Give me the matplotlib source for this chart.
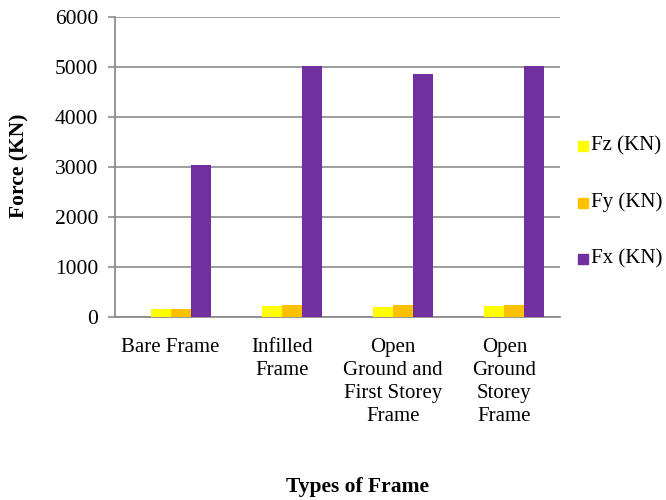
import matplotlib
matplotlib.use('Agg')
import matplotlib.pyplot as plt
import numpy as np

categories = ['Bare Frame', 'Infilled\nFrame', 'Open\nGround and\nFirst Storey\nFrame',
              'Open\nGround\nStorey\nFrame']
fz = [160, 220, 210, 215]
fy = [160, 250, 245, 245]
fx = [3040, 5030, 4860, 5030]
series_names = ['Fz (KN)', 'Fy (KN)', 'Fx (KN)']
colors = ['#FFFF00', '#FFC000', '#7030A0']

plt.rcParams['font.family'] = ['Liberation Serif', 'DejaVu Serif']

fig = plt.figure(figsize=(6.66, 5), dpi=100)
ax = fig.add_axes([115 / 666, 1 - 317 / 500, 445 / 666, 300 / 500])

x = np.arange(len(categories))
w = 20 / 111
# four slots per group, first slot left empty
offsets = [-0.5 * w, 0.5 * w, 1.5 * w]
for vals, off, c, name in zip([fz, fy, fx], offsets, colors, series_names):
    ax.bar(x + off, vals, width=w, color=c, label=name, zorder=3)

ax.set_xlim(-0.5, len(categories) - 0.5)
ax.set_ylim(0, 6000)
ax.set_yticks(range(0, 6001, 1000))
ax.yaxis.grid(True, color='#8c8c8c', linewidth=1.2, zorder=0)
ax.set_xticks(x)
ax.set_xticklabels(categories, fontsize=15, linespacing=1.3)
ax.tick_params(axis='x', length=0, pad=15)
ax.tick_params(axis='y', length=5, color='#8c8c8c', width=1.2, labelsize=15.5, pad=7)
for s in ['top', 'right']:
    ax.spines[s].set_visible(False)
for s in ['left', 'bottom']:
    ax.spines[s].set_color('#8c8c8c')
    ax.spines[s].set_linewidth(1.3)

fig.text(19 / 666, 1 - 166 / 500, 'Force (KN)', fontsize=15.5, fontweight='bold',
         rotation=90, ha='center', va='center')
fig.text(358 / 666, 1 - 487 / 500, 'Types of Frame', fontsize=15.5, fontweight='bold',
         ha='center', va='center')

# legend entries stacked on the right
for i, (c, name) in enumerate(zip(colors, series_names)):
    yy = 1 - (146 + 56.5 * i) / 500
    fig.patches.append(plt.Rectangle((578 / 666, yy - 5 / 500), 10 / 666, 10 / 500,
                                     transform=fig.transFigure, color=c))
    fig.text(591 / 666, yy, name, fontsize=15, va='center', ha='left')

plt.savefig('out.png', dpi=100)
